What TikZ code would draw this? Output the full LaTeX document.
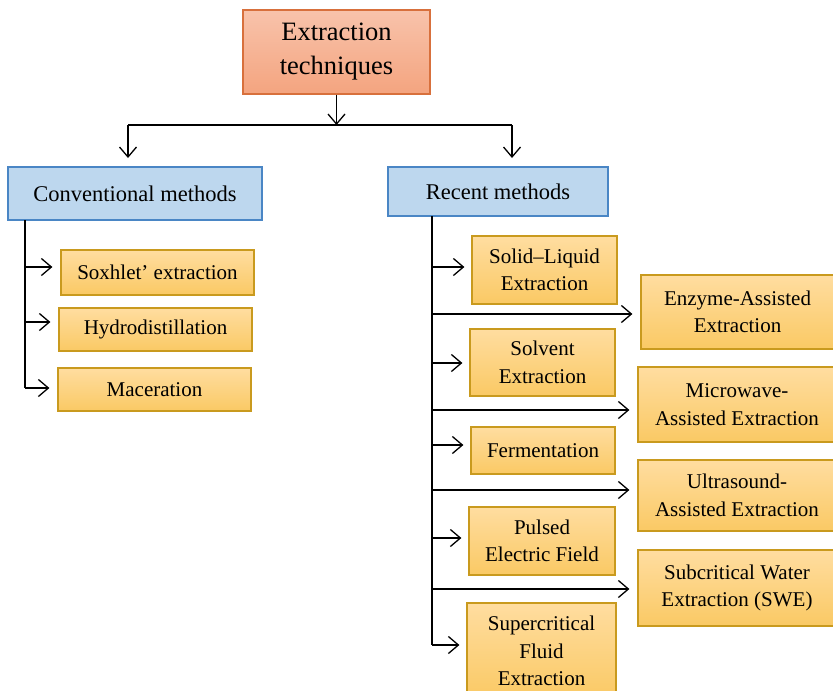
\documentclass[tikz,border=0pt]{standalone}
\usepackage{fontspec}
\setmainfont{Liberation Serif}
\usetikzlibrary{arrows.meta}

\definecolor{salmontop}{HTML}{F8C3AB}
\definecolor{salmonbot}{HTML}{F4A47F}
\definecolor{salmonline}{HTML}{D8703C}
\definecolor{bluefill}{HTML}{BDD7EE}
\definecolor{blueline}{HTML}{4A86C5}
\definecolor{goldtop}{HTML}{FFDDA0}
\definecolor{goldbot}{HTML}{FAC964}
\definecolor{goldline}{HTML}{C99A1E}

\tikzset{
 topbox/.style={draw=salmonline, line width=1.2pt, top color=salmontop, bottom color=salmonbot,
   align=center, inner sep=0pt, font=\fontsize{26.5}{34}\selectfont},
 headbox/.style={draw=blueline, line width=1.2pt, fill=bluefill,
   align=center, inner sep=0pt, font=\fontsize{22.5}{27}\selectfont},
 itembox/.style={draw=goldline, line width=1.2pt, top color=goldtop, bottom color=goldbot,
   align=center, inner sep=0pt, font=\fontsize{21}{27.5}\selectfont},
 arr/.style={-{Straight Barb[length=10pt,width=17pt]}, line width=1.3pt},
 trunk/.style={line width=1.5pt}
}

\begin{document}
\begin{tikzpicture}[x=1pt,y=-1pt]
\useasboundingbox (0,0) rectangle (833,691);
\clip (0,0) rectangle (833,691);

% top
\node [topbox, minimum width=187pt, minimum height=84pt] (tech) at (336.5,52) {Extraction\\techniques};

% two branches
\node [headbox, minimum width=254pt, minimum height=53pt] (conv) at (135,193.5) {Conventional methods};
\node [headbox, minimum width=220pt, minimum height=49pt] (rec) at (498,191.5) {Recent methods};

% conventional
\node [itembox, minimum width=193pt, minimum height=45pt] (sox) at (157.5,272.5) {Soxhlet' extraction};
\node [itembox, minimum width=193pt, minimum height=43pt] (hyd) at (155.5,329.5) {Hydrodistillation};
\node [itembox, minimum width=193pt, minimum height=43pt] (mac) at (154.5,389.5) {Maceration};

% recent, first column
\node [itembox, minimum width=145pt, minimum height=68pt] (sle) at (544.5,270) {Solid--Liquid\\Extraction};
\node [itembox, minimum width=145pt, minimum height=67pt] (solv) at (542.5,362.5) {Solvent\\Extraction};
\node [itembox, minimum width=144pt, minimum height=47pt] (ferm) at (543,450.5) {Fermentation};
\node [itembox, minimum width=146pt, minimum height=68pt] (pef) at (542,541) {Pulsed\\Electric Field};
\node [itembox, minimum width=149pt, minimum height=96pt] (sfe) at (541.5,651) {Supercritical\\Fluid\\Extraction};

% recent, second column
\node [itembox, minimum width=193pt, minimum height=74pt] (eae) at (737.5,312) {Enzyme-Assisted\\Extraction};
\node [itembox, minimum width=198pt, minimum height=75pt] (mae) at (737,404.5) {Microwave-\\Assisted Extraction};
\node [itembox, minimum width=198pt, minimum height=71pt] (uae) at (737,495.5) {Ultrasound-\\Assisted Extraction};
\node [itembox, minimum width=198pt, minimum height=76pt] (swe) at (737,588) {Subcritical Water\\Extraction (SWE)};

% split
\coordinate (sl) at (128,125);
\coordinate (sr) at (512,125);
\draw [arr] (tech.south) -- (tech.south |- sl);
\draw [trunk] (sl) -- (sr);
\draw [arr] (sl) -- (128,158);
\draw [arr] (sr) -- (512,158);

% conventional trunk
\draw [trunk] (25,220) -- (25,388);
\foreach \n/\y in {sox/267,hyd/322,mac/388}
  \draw [arr, shorten >=8pt] (25,\y) -- (\n.west |- 25,\y);

% recent trunk
\draw [trunk] (432,216) -- (432,645);
\foreach \n/\y in {sle/267,solv/363,ferm/445,pef/538,sfe/645}
  \draw [arr, shorten >=7pt] (432,\y) -- (\n.west |- 432,\y);
\foreach \n/\y in {eae/314,mae/410,uae/490,swe/589}
  \draw [arr, shorten >=8pt] (432,\y) -- (\n.west |- 432,\y);

\end{tikzpicture}
\end{document}
